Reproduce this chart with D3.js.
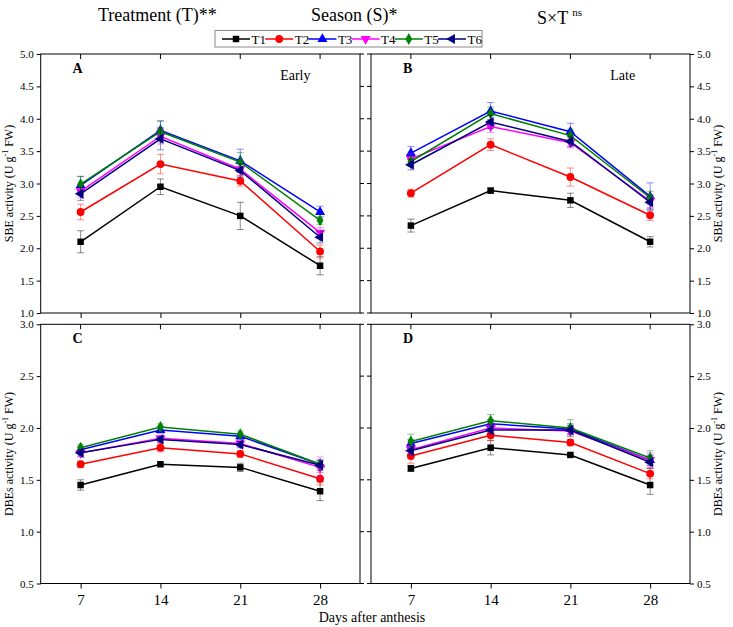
<!DOCTYPE html>
<html><head><meta charset="utf-8">
<script src="https://cdn.jsdelivr.net/npm/d3@7"></script>
<style>body{margin:0;background:#fff}svg{display:block}text{font-family:"Liberation Serif","Times New Roman",serif}</style>
</head><body><svg id="c" width="733" height="627"></svg>
<script>
const days = [7, 14, 21, 28];
const treatments = ["T1","T2","T3","T4","T5","T6"];
const colors = ["#000000","#ff0000","#0000ff","#ff00ff","#008000","#000080"];
const yTicksSBE = [1.0,1.5,2.0,2.5,3.0,3.5,4.0,4.5,5.0];
const yTicksDBE = [0.5,1.0,1.5,2.0,2.5,3.0];

// Panel A: SBE, early season
const sbeEarly = [
  [2.10, 2.95, 2.50, 1.73],
  [2.56, 3.30, 3.04, 1.95],
  [2.97, 3.82, 3.35, 2.56],
  [2.88, 3.73, 3.22, 2.24],
  [2.99, 3.80, 3.33, 2.43],
  [2.84, 3.69, 3.20, 2.17]];
const sbeEarlyErr = [
  [0.17, 0.12, 0.21, 0.14],
  [0.12, 0.15, 0.08, 0.10],
  [0.14, 0.15, 0.18, 0.09],
  [0.10, 0.12, 0.10, 0.08],
  [0.12, 0.16, 0.15, 0.06],
  [0.10, 0.17, 0.10, 0.09]];
// Panel B: SBE, late season
const sbeLate = [
  [2.35, 2.89, 2.74, 2.10],
  [2.85, 3.60, 3.10, 2.51],
  [3.47, 4.12, 3.80, 2.80],
  [3.38, 3.88, 3.63, 2.73],
  [3.34, 4.08, 3.74, 2.78],
  [3.29, 3.95, 3.65, 2.71]];
const sbeLateErr = [
  [0.10, 0.04, 0.11, 0.08],
  [0.06, 0.09, 0.14, 0.08],
  [0.10, 0.13, 0.13, 0.21],
  [0.08, 0.09, 0.08, 0.10],
  [0.08, 0.10, 0.10, 0.10],
  [0.08, 0.10, 0.08, 0.10]];
// Panel C: DBEs, early season
const dbeEarly = [
  [1.45, 1.65, 1.62, 1.39],
  [1.65, 1.81, 1.75, 1.51],
  [1.79, 1.98, 1.92, 1.65],
  [1.76, 1.90, 1.85, 1.62],
  [1.81, 2.01, 1.94, 1.65],
  [1.76, 1.89, 1.84, 1.64]];
const dbeEarlyErr = [
  [0.05, 0.02, 0.04, 0.09],
  [0.03, 0.04, 0.03, 0.06],
  [0.03, 0.03, 0.03, 0.04],
  [0.04, 0.03, 0.03, 0.10],
  [0.03, 0.03, 0.03, 0.03],
  [0.03, 0.03, 0.03, 0.05]];
// Panel D: DBEs, late season
const dbeLate = [
  [1.61, 1.81, 1.74, 1.45],
  [1.73, 1.93, 1.86, 1.56],
  [1.85, 2.04, 1.99, 1.69],
  [1.79, 2.00, 1.97, 1.69],
  [1.87, 2.07, 2.00, 1.71],
  [1.78, 1.98, 1.98, 1.67]];
const dbeLateErr = [
  [0.03, 0.07, 0.02, 0.09],
  [0.07, 0.05, 0.03, 0.05],
  [0.04, 0.04, 0.05, 0.05],
  [0.04, 0.04, 0.05, 0.07],
  [0.07, 0.06, 0.08, 0.07],
  [0.04, 0.04, 0.04, 0.06]];

const svg = d3.select("#c");
const symbolFor = [d3.symbolSquare, d3.symbolCircle, d3.symbolTriangle, d3.symbolTriangle, d3.symbolDiamond, d3.symbolTriangle];
const symRot = [0, 0, 0, 180, 0, -90];
const symSize = [42, 48, 44, 44, 40, 44];

function marker(g, i, x, y) {
  g.append("path").attr("d", d3.symbol().type(symbolFor[i]).size(symSize[i])())
    .attr("transform", `translate(${x},${y}) rotate(${symRot[i]})`)
    .attr("fill", colors[i]);
}

const panels = [
  {id:"A", label:"Early", data:sbeEarly, err:sbeEarlyErr, x0:40.7, x1:360, y0:313, y1:54, dom:[1,5], ticks:yTicksSBE, side:"left", ytitle:"SBE activity (U g", bottom:false},
  {id:"B", label:"Late", data:sbeLate, err:sbeLateErr, x0:371, x1:690, y0:313, y1:54, dom:[1,5], ticks:yTicksSBE, side:"right", ytitle:"SBE activity (U g", bottom:false},
  {id:"C", label:"", data:dbeEarly, err:dbeEarlyErr, x0:40.7, x1:360, y0:583.5, y1:324.3, dom:[0.5,3], ticks:yTicksDBE, side:"left", ytitle:"DBEs activity (U g", bottom:true},
  {id:"D", label:"", data:dbeLate, err:dbeLateErr, x0:371, x1:690, y0:583.5, y1:324.3, dom:[0.5,3], ticks:yTicksDBE, side:"right", ytitle:"DBEs activity (U g", bottom:true}
];

panels.forEach(p => {
  const x = d3.scaleLinear().domain([3.5, 31.5]).range([p.x0, p.x1]);
  const y = d3.scaleLinear().domain(p.dom).range([p.y0, p.y1]);
  const g = svg.append("g");
  // frame
  g.append("rect").attr("x", p.x0).attr("y", p.y1).attr("width", p.x1 - p.x0).attr("height", p.y0 - p.y1)
    .attr("fill", "none").attr("stroke", "#000").attr("stroke-width", 1);
  // y axis
  const yAx = (p.side === "left" ? d3.axisLeft(y) : d3.axisRight(y)).tickValues(p.ticks).tickFormat(d3.format(".1f")).tickSize(4).tickPadding(3);
  const ya = g.append("g").attr("transform", `translate(${p.side === "left" ? p.x0 : p.x1},0)`).call(yAx);
  ya.select(".domain").remove();
  ya.selectAll("text").attr("font-size", 11).attr("font-family", "Liberation Serif");
  // mirror y ticks (outward into the gap)
  const mx = p.side === "left" ? p.x1 : p.x0;
  const md = p.side === "left" ? 4 : -4;
  g.selectAll(".mt").data(p.ticks).enter().append("line")
    .attr("x1", mx).attr("x2", mx + md).attr("y1", d => y(d)).attr("y2", d => y(d)).attr("stroke", "#000");
  // x axis (outward ticks)
  const xAx = d3.axisBottom(x).tickValues(days).tickSize(5).tickPadding(6).tickFormat(p.bottom ? d3.format("d") : "");
  const xa = g.append("g").attr("transform", `translate(0,${p.y0})`).call(xAx);
  xa.select(".domain").remove();
  xa.selectAll("text").attr("font-size", 15).attr("font-family", "Liberation Serif");
  // top ticks (inward)
  g.selectAll(".tt").data(days).enter().append("line")
    .attr("x1", d => x(d)).attr("x2", d => x(d)).attr("y1", p.y1).attr("y2", p.y1 + 5).attr("stroke", "#000");
  // panel letters
  g.append("text").attr("x", x(7) - 8).attr("y", p.y1 + 19).attr("font-size", 14).attr("font-weight", "bold").text(p.id);
  if (p.label) g.append("text").attr("x", x(24.5)).attr("y", p.y1 + 26).attr("font-size", 14).text(p.label);
  // y title
  const tx = p.side === "left" ? 13 : 722;
  const ty = (p.y0 + p.y1) / 2;
  const t = g.append("text").attr("transform", `translate(${tx},${ty}) rotate(-90)`).attr("text-anchor", "middle")
    .attr("font-size", 12);
  t.append("tspan").text(p.ytitle);
  t.append("tspan").attr("dy", -5).attr("font-size", 8).text("-1");
  t.append("tspan").attr("dy", 5).text(" FW)");
  // series
  const line = d3.line().x((d, j) => x(days[j])).y(d => y(d));
  p.data.forEach((s, i) => {
    const sg = g.append("g");
    s.forEach((v, j) => {
      const e = p.err[i][j];
      const xx = x(days[j]);
      sg.append("line").attr("x1", xx).attr("x2", xx).attr("y1", y(v - e)).attr("y2", y(v + e))
        .attr("stroke", colors[i]).attr("stroke-opacity", 0.45).attr("stroke-width", 1);
      [v - e, v + e].forEach(w => sg.append("line").attr("x1", xx - 3.5).attr("x2", xx + 3.5).attr("y1", y(w)).attr("y2", y(w))
        .attr("stroke", colors[i]).attr("stroke-opacity", 0.45).attr("stroke-width", 1));
    });
    sg.append("path").datum(s).attr("d", line).attr("fill", "none").attr("stroke", colors[i]).attr("stroke-width", 1.5);
    s.forEach((v, j) => marker(sg, i, x(days[j]), y(v)));
  });
});

// x axis title
svg.append("text").attr("x", 372).attr("y", 622).attr("text-anchor", "middle").attr("font-size", 14).text("Days after anthesis");

// top titles
svg.append("text").attr("x", 98).attr("y", 21).attr("font-size", 18).text("Treatment (T)**");
svg.append("text").attr("x", 311).attr("y", 21).attr("font-size", 18).text("Season (S)*");
const st = svg.append("text").attr("x", 537).attr("y", 24).attr("font-size", 18);
st.append("tspan").text("S×T ");
st.append("tspan").attr("dy", -8).attr("font-size", 11).text("ns");

// legend
const lg = svg.append("g");
lg.append("rect").attr("x", 215).attr("y", 30.5).attr("width", 267).attr("height", 16.5).attr("fill", "#fff").attr("stroke", "#888");
treatments.forEach((name, i) => {
  const lx = 222 + i * 43.2;
  const ly = 39;
  lg.append("line").attr("x1", lx).attr("x2", lx + 28).attr("y1", ly).attr("y2", ly).attr("stroke", colors[i]).attr("stroke-width", 1.5);
  marker(lg, i, lx + 14, ly);
  lg.append("text").attr("x", lx + 29.5).attr("y", ly + 4.5).attr("font-size", 13).text(name);
});
</script></body></html>
